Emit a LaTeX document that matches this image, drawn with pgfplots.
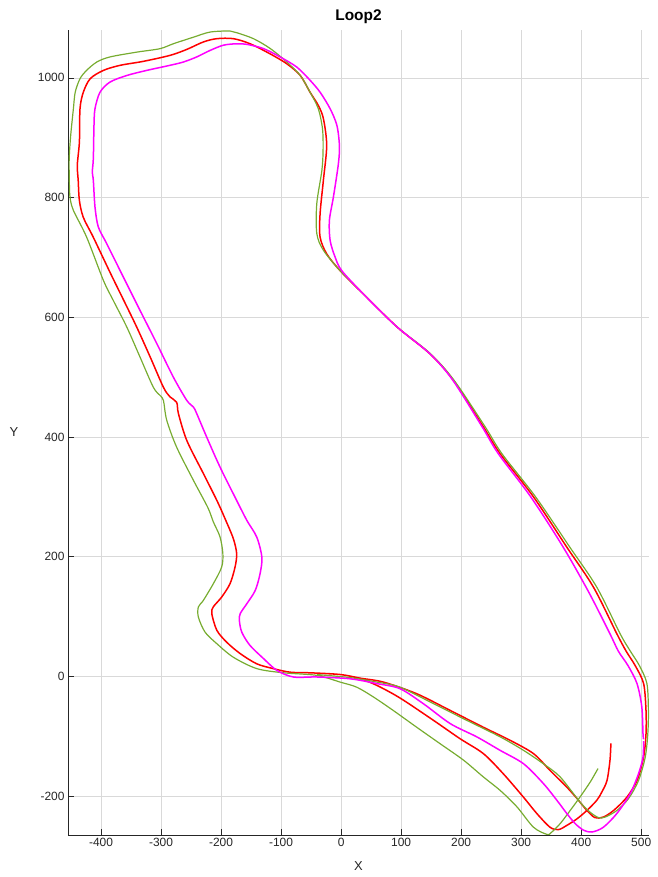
\documentclass[border=0pt]{standalone}
\usepackage{pgfplots}
\pgfplotsset{compat=1.18}
\usepackage{fontspec}
\setmainfont{Liberation Sans}
\definecolor{mgreen}{RGB}{119,172,48}
\definecolor{mag}{RGB}{255,0,255}
\definecolor{axgray}{RGB}{38,38,38}
\begin{document}
\begin{tikzpicture}
\useasboundingbox (0,0) rectangle (658bp,877bp);
\begin{axis}[at={(68bp,42bp)}, anchor=south west, scale only axis,
 width=581bp, height=805bp,
 xmin=-455, xmax=513, ymin=-265, ymax=1080,
 axis x line*=bottom, axis y line*=left,
 axis line style={-, axgray, line width=0.6bp},
 xtick={-400,-300,...,500}, ytick={-200,0,...,1000},
 grid=major, major grid style={black!15, line width=0.5bp},
 tick align=inside, major tick length=6bp,
 tick style={axgray, line width=0.6bp},
 ticklabel style={font=\fontsize{12}{14}\selectfont, text=axgray},
 /pgf/number format/assume math mode=true,
 /pgf/number format/1000 sep={},
 xlabel={X}, ylabel={Y},
 label style={font=\fontsize{13}{15}\selectfont, text=axgray},
 xlabel style={at={(axis description cs:0.5,-0.0385)}, anchor=center},
 ylabel style={rotate=-90, at={(axis description cs:-0.093,0.5)}, anchor=center},
 title={Loop2},
 title style={font=\fontsize{15.5}{17}\selectfont\bfseries, text=black, at={(axis description cs:0.5,1)}, anchor=south, yshift=-3bp},
 every axis plot/.append style={smooth, tension=0.5},
]
% red
\addplot[red, line width=1.5bp] coordinates {
(449.5,-112) (448,-140) (443,-174) (434.5,-193) (426,-207) (409.5,-224) (393,-238) (376,-249) (362,-256) (348,-252)
(326,-229) (304,-202) (270.5,-163) (237,-129) (198,-104) (154,-73.5) (98,-36) (59.5,-15) (32,-4) (0,3)
(-52,6) (-85,7) (-113,13) (-140.5,21) (-168,38) (-190.5,57) (-207,77) (-215.5,105) (-213,116) (-199,132.5)
(-185,155) (-176.7,182.6) (-174,205) (-179.5,230) (-194,265) (-207,294) (-229.5,339) (-257,394) (-271,439) (-274,458)
(-285,467) (-296,483) (-318,533.5) (-340.5,583.6) (-362,628) (-384,673) (-413,734) (-429.5,767) (-436,795) (-438,829)
(-439.5,854) (-436,893) (-435,948.5) (-429.5,976) (-418,998.6) (-396,1012.5) (-368,1021) (-329.5,1027.6) (-285,1037.6) (-257,1047.6)
(-229.5,1060) (-207,1065.5) (-179.5,1065.5) (-151.7,1057) (-118,1040) (-90.5,1023.6) (-68,1004) (-51.7,976) (-38,954) (-29.5,932)
(-24,887) (-29.5,829) (-35,773) (-35,734) (-24,706) (-1.7,678) (37,639) (93,584) (148,539) (187,495)
(237,417) (265,372) (320.5,300) (376,216) (420.5,149) (459.5,71) (475,42) (490,18) (504,-12) (508,-57)
(508,-96) (504,-135) (493,-174) (476,-202) (454,-224) (437,-235) (423,-236) (409.5,-224) (393,-204) (376,-185)
(348,-157) (320.5,-129) (282,-107) (237,-85) (182,-57) (126,-29) (70.5,-9.5) (32,-3) (0,3) (-52,6)
};
% green
\addplot[mgreen, line width=1.2bp] coordinates {
(428,-154) (415,-176.6) (398,-201.6) (381.7,-224) (365,-246) (350,-261) (343,-264) (320.5,-252) (293,-218) (265,-190.5)
(237,-168) (204,-140) (165,-112.5) (126,-85) (87,-57) (54,-34.5) (26,-18) (-1.7,-9.5) (-40.5,1.7) (-96,6)
(-140.5,13) (-179.5,32) (-207,54.6) (-226.7,74) (-237.8,99) (-237.8,116) (-229.5,127) (-212.8,155) (-199,182.6) (-197,205)
(-201.7,233) (-212.8,258) (-222,282) (-246,327.5) (-274,383) (-290.5,428) (-296,461) (-301.7,469.5) (-312.8,483) (-335,533.5)
(-357,583.6) (-379.5,628) (-396,661.6) (-424,734) (-446,778.6) (-451.7,801) (-452.8,829) (-453,865) (-450.5,904) (-446,948.5)
(-443,976) (-435,998.6) (-424,1012.5) (-407,1026.5) (-385,1035) (-340.5,1043) (-301.7,1048.8) (-279.5,1057) (-246,1068) (-218,1076.6)
(-185,1078.3) (-174,1075.5) (-146,1065.5) (-118,1049) (-90.5,1026.5) (-68,1004) (-51.7,976) (-38,948.5) (-31,915) (-30,880)
(-32,845.5) (-40.5,790) (-40.5,740) (-29.5,712) (-1.7,678) (37,639) (93,584) (148,540) (188,495) (240,417)
(268,372) (324,300) (381,216) (426,149) (465,71) (482,42) (497,18) (509.5,-12) (512,-57) (511,-96)
(506.7,-135) (495.5,-174) (479,-204) (459.5,-224) (440,-235) (429,-236) (415,-227) (398,-210) (365,-168) (337,-146)
(304,-123.6) (265,-101) (209.5,-73.5) (154,-45.6) (98,-18) (59.5,-9.5) (15,-2) (-40,3)
};
% magenta
\addplot[mag, line width=1.5bp] coordinates {
(504,-108) (503,-135) (495.5,-162.6) (481.7,-196) (459.5,-229) (437,-252) (418,-260) (404,-257) (390,-246) (376,-229)
(359.5,-207) (337,-179) (304,-146) (265,-123.6) (226,-101) (182,-79) (137,-45.6) (98,-20.5) (59.5,-12) (15,-4)
(-40.5,-1) (-79.5,-1) (-107,10) (-129.5,30) (-152,52) (-165.5,74) (-169.5,93.6) (-168,105) (-157,121.5) (-143,143.7)
(-135,171.6) (-132,199) (-140.5,232.7) (-157,260.6) (-174,294) (-201.7,349.7) (-224,400) (-240.5,439) (-246,450) (-257,461)
(-279.5,500) (-307,556) (-335,611.5) (-360,661.6) (-390.5,723) (-404.5,751) (-410,784) (-412.8,829) (-414.5,842.6) (-412.8,865)
(-411.7,920.6) (-410,948.5) (-401.7,976) (-385,993) (-357,1004) (-323.8,1012.5) (-285,1021) (-262.8,1026.5) (-240.5,1035) (-218,1046)
(-196,1054.6) (-174,1057) (-157,1056) (-129.5,1049) (-101.7,1035) (-73.8,1018) (-51.7,996) (-35,976) (-18.3,948.5) (-7,920.6)
(-2.8,887) (-4.5,856.6) (-12.8,801) (-19.5,762) (-18.3,728.5) (-10,700.6) (1,678) (37,639) (93,584) (148,539)
(186,495) (235,417) (262,372) (316,300) (370,216) (413,140) (448,71) (462,42) (478,18) (493,-12)
(501,-51) (503,-96) (504,-105)
};
\end{axis}
\end{tikzpicture}
\end{document}
